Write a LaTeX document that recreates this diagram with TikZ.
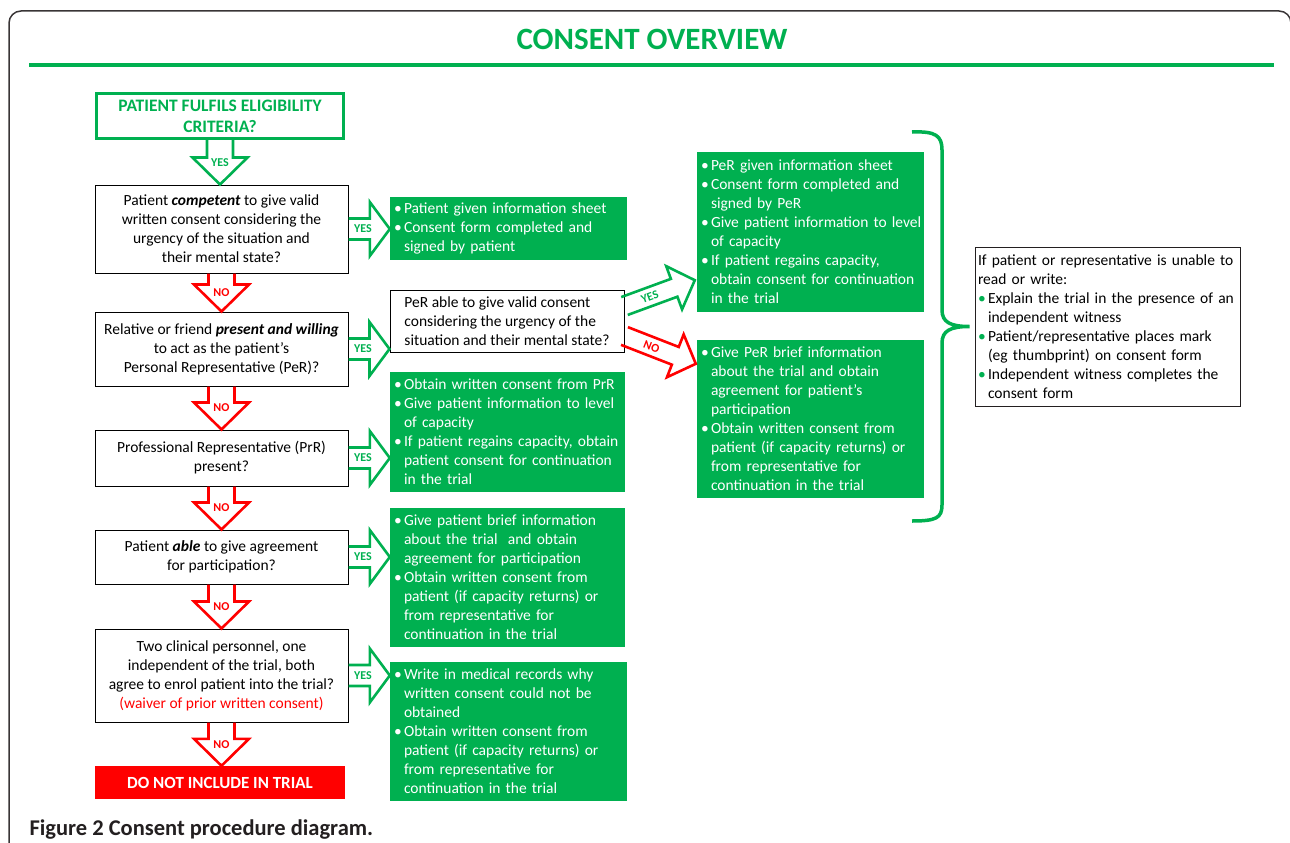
\documentclass[tikz,border=0pt]{standalone}
\usepackage{fontspec}
\setmainfont{Carlito}
\usetikzlibrary{calc}
\definecolor{okgreen}{RGB}{0,176,80}
\definecolor{capgray}{RGB}{35,31,32}
\newcommand{\bi}{\makebox[10pt][l]{\textbullet}}
\newcommand{\gbi}{\makebox[10pt][l]{\textcolor{okgreen}{\textbullet}}}
\newcommand{\ci}{\hspace*{10pt}}
\newcommand{\arrdims}[3]{\def\shw{#1}\def\hdw{#2}\def\hdl{#3}}
\newcommand{\blockarr}[5][midway]{%
  \coordinate (ba) at (#2);
  \coordinate (bb) at (#3);
  \coordinate (bh) at ($(bb)!\hdl!(ba)$);
  \draw[#4, line width=2.6pt, line join=miter]
    ($(ba)!\shw!90:(bb)$) -- ($(bh)!\shw!90:(bb)$) -- ($(bh)!\hdw!90:(bb)$) -- (bb)
    -- ($(bh)!\hdw!-90:(bb)$) -- ($(bh)!\shw!-90:(bb)$) -- ($(ba)!\shw!-90:(bb)$);
  \path (ba) -- (bb) node[lbl, text=#4, #1] {#5};
}
\begin{document}
\begin{tikzpicture}[x=1pt, y=-1pt,
  lbl/.style={font=\fontsize{12}{12}\selectfont\bfseries, inner sep=0pt},
  qbox/.style={draw, line width=1pt, align=center, minimum width=253pt, inner sep=2pt, font=\fontsize{15.5}{19}\selectfont},
  gbox/.style={fill=okgreen, text=white, align=left, inner xsep=4pt, inner ysep=2pt, font=\fontsize{15.5}{19}\selectfont},
]
\useasboundingbox (0,0) rectangle (1290,843);
\clip (0,0) rectangle (1290,843);

% frame and heading
\draw[capgray!90, line width=1.5pt, rounded corners=12pt] (9,11) rectangle (1291,880);
\node[text=okgreen, font=\fontsize{31}{31}\selectfont\bfseries] (title) at (652,39) {CONSENT OVERVIEW};
\draw[okgreen, line width=4pt] (29,65) -- (1274,65);

% left column
\node[qbox, draw=okgreen, line width=3pt, text=okgreen, minimum width=247pt, minimum height=45pt,
  font=\fontsize{17.5}{21}\selectfont\bfseries] (elig) at (220,116) {PATIENT FULFILS ELIGIBILITY\\CRITERIA?};
\node[qbox, minimum height=88pt] (comp) at (221.5,229) {Patient \textbf{\textit{competent}} to give valid\\written consent considering the\\urgency of the situation and\\their mental state?};
\node[qbox, minimum height=74pt] (rel) at (221.5,349) {Relative or friend \textbf{\textit{present and willing}}\\to act as the patient’s\\Personal Representative (PeR)?};
\node[qbox, minimum height=56pt] (prof) at (221.5,458) {Professional Representative (PrR)\\present?};
\node[qbox, minimum height=54pt] (able) at (221.5,557) {Patient \textbf{\textit{able}} to give agreement\\for participation?};
\node[qbox, minimum height=93pt] (two) at (221.5,675.5) {Two clinical personnel, one\\independent of the trial, both\\agree to enrol patient into the trial?\\\textcolor{red}{(waiver of prior written consent)}};
\node[fill=red, text=white, minimum width=250pt, minimum height=33pt,
  font=\fontsize{17}{17}\selectfont\bfseries] (stop) at (220,782.5) {DO NOT INCLUDE IN TRIAL};

% middle column
\node[gbox, text width=229pt, minimum height=63pt] (info) at (508.5,228.5) {\bi Patient given information sheet\\\bi Consent form completed and\\\ci signed by patient};
\node[draw, line width=1pt, align=left, minimum width=234pt, minimum height=62pt,
  font=\fontsize{15.5}{19}\selectfont] (per) at (507,321) {PeR able to give valid consent\\considering the urgency of the\\situation and their mental state?};
\node[gbox, text width=227pt, minimum height=120pt] (prinfo) at (507.5,432) {\bi Obtain written consent from PrR\\\bi Give patient information to level\\\ci of capacity\\\bi If patient regains capacity, obtain\\\ci patient consent for continuation\\\ci in the trial};
\node[gbox, text width=227pt, minimum height=139pt] (brief) at (507.5,577.5) {\bi Give patient brief information\\\ci about the trial\ \ and obtain\\\ci agreement for participation\\\bi Obtain written consent from\\\ci patient (if capacity returns) or\\\ci from representative for\\\ci continuation in the trial};
\node[gbox, text width=229pt, minimum height=139pt] (waive) at (508.5,731.5) {\bi Write in medical records why\\\ci written consent could not be\\\ci obtained\\\bi Obtain written consent from\\\ci patient (if capacity returns) or\\\ci from representative for\\\ci continuation in the trial};

% right column
\node[gbox, text width=219pt, minimum height=160pt] (pery) at (810.5,232) {\bi PeR given information sheet\\\bi Consent form completed and\\\ci signed by PeR\\\bi \mbox{Give patient information to level}\\\ci of capacity\\\bi If patient regains capacity,\\\ci obtain consent for continuation\\\ci in the trial};
\node[gbox, text width=219pt, minimum height=158pt] (pern) at (810.5,419) {\bi Give PeR brief information\\\ci about the trial and obtain\\\ci agreement for patient’s\\\ci participation\\\bi Obtain written consent from\\\ci patient (if capacity returns) or\\\ci from representative for\\\ci continuation in the trial};
\node[draw=capgray, line width=1pt, align=left, text width=259pt, inner xsep=3pt, inner ysep=2pt, minimum height=159pt,
  font=\fontsize{15.5}{19}\selectfont] (note) at (1107.5,326.5) {If patient or representative is unable to\\read or write:\\\gbi Explain the trial in the presence of an\\\ci independent witness\\\gbi Patient/representative places mark\\\ci (eg thumbprint) on consent form\\\gbi Independent witness completes the\\\ci consent form};

% brace
\coordinate (tip) at ($(note.west)+(-5,0)$);
\draw[okgreen, line width=3.5pt] (912,132) .. controls (936,131) and (942,136) .. (942,150) -- (942,310)
  .. controls (942,322) and (950,326.5) .. (tip) .. controls (950,326.5) and (942,331) .. (942,343)
  -- (942,505) .. controls (942,518) and (936,521) .. (912,521);

% down arrows
\arrdims{13pt}{27.5pt}{27pt}
\blockarr{elig.south}{elig.south |- comp.north}{okgreen}{YES}
\blockarr{comp.south}{rel.north}{red}{NO}
\blockarr{rel.south}{prof.north}{red}{NO}
\blockarr{prof.south}{able.north}{red}{NO}
\blockarr{able.south}{two.north}{red}{NO}
\blockarr{two.south}{two.south |- stop.north}{red}{NO}

% yes arrows to the right
\arrdims{10.5pt}{27pt}{20pt}
\blockarr[pos=.35]{comp.east}{comp.east -| info.west}{okgreen}{YES}
\blockarr[pos=.35]{rel.east}{rel.east -| per.west}{okgreen}{YES}
\blockarr[pos=.35]{prof.east}{prof.east -| prinfo.west}{okgreen}{YES}
\blockarr[pos=.35]{able.east}{able.east -| brief.west}{okgreen}{YES}
\blockarr[pos=.35]{two.east}{two.east -| waive.west}{okgreen}{YES}

% PeR decision
\arrdims{9.5pt}{23pt}{22pt}
\blockarr[pos=.36, sloped]{$(per.east)+(0,-15)$}{$(pery.south west)+(-2,-32)$}{okgreen}{YES}
\blockarr[pos=.38, sloped]{$(per.east)+(0,15)$}{$(pern.north west)+(-1,24)$}{red}{NO}

\node[anchor=base west, text=capgray, font=\fontsize{22.5}{22.5}\selectfont\bfseries] (caption) at (26,835) {Figure 2 Consent procedure diagram.};
\end{tikzpicture}
\end{document}
